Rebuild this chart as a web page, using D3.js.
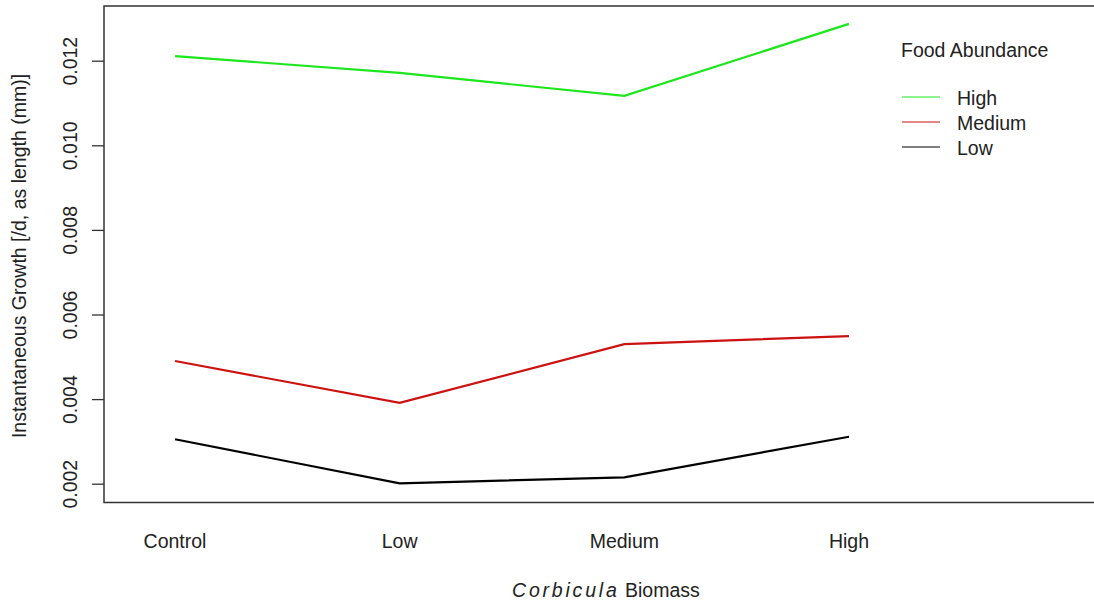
<!DOCTYPE html>
<html>
<head>
<meta charset="utf-8">
<script src="https://cdn.jsdelivr.net/npm/d3@7"></script>
<style>
  html, body { margin: 0; padding: 0; background: #fff; }
  svg { display: block; font-family: "Liberation Sans", Arial, sans-serif; }
</style>
</head>
<body>
<svg id="chart" width="1094" height="606"></svg>
<script>
// Biomass treatments along the x axis
const biomass = ["Control", "Low", "Medium", "High"];
// Growth rate per food-abundance level
const foodLevels = ["High", "Medium", "Low"];
const growthHigh   = [0.01211, 0.01171, 0.01117, 0.01287];
const growthMedium = [0.00490, 0.00391, 0.00530, 0.00549];
const growthLow    = [0.00305, 0.00201, 0.00215, 0.00311];
const yTicks = [0.002, 0.004, 0.006, 0.008, 0.010, 0.012];
const seriesColors = { High: "#1ee61e", Medium: "#cc1111", Low: "#000000" };

const series = [
  { name: "High", values: growthHigh },
  { name: "Medium", values: growthMedium },
  { name: "Low", values: growthLow }
];

const svg = d3.select("#chart");
const fs = 19.5;

// Plot frame (right edge runs past the page)
const frame = { left: 104, top: 6, right: 1106, bottom: 502.5 };

const x = d3.scalePoint().domain(biomass).range([175, 849]);
const y = d3.scaleLinear().domain([0.002, 0.012]).range([483.7, 60.7]);

// Box
svg.append("rect")
  .attr("x", frame.left).attr("y", frame.top)
  .attr("width", frame.right - frame.left)
  .attr("height", frame.bottom - frame.top)
  .attr("fill", "none").attr("stroke", "#333").attr("stroke-width", 1.5);

// Y axis with rotated labels
const yAxis = svg.append("g")
  .attr("transform", `translate(${frame.left},0)`)
  .call(d3.axisLeft(y).tickValues(yTicks).tickSize(12).tickFormat(d3.format(".3f")));
yAxis.select(".domain").remove();
yAxis.selectAll(".tick line").attr("stroke", "#333").attr("stroke-width", 1.3);
yAxis.selectAll(".tick text")
  .attr("x", 0).attr("dy", null)
  .attr("transform", "translate(-34,0) rotate(-90)")
  .attr("text-anchor", "middle")
  .attr("dominant-baseline", "central")
  .attr("font-size", fs)
  .attr("fill", "#222");

// X category labels (no tick marks)
svg.append("g").selectAll("text")
  .data(biomass).join("text")
  .attr("x", d => x(d)).attr("y", 548)
  .attr("text-anchor", "middle")
  .attr("font-size", fs).attr("fill", "#222")
  .text(d => d);

// Axis titles
const xt = svg.append("text")
  .attr("x", 512).attr("y", 597)
  .attr("font-size", fs).attr("fill", "#222");
xt.append("tspan").attr("font-style", "italic").attr("letter-spacing", "2.8px").text("Corbicula");
xt.append("tspan").text(" Biomass");

svg.append("text")
  .attr("transform", "translate(26,256) rotate(-90)")
  .attr("text-anchor", "middle")
  .attr("font-size", fs).attr("fill", "#222")
  .text("Instantaneous Growth [/d, as length (mm)]");

// Lines
const line = d3.line()
  .x((d, i) => x(biomass[i]))
  .y(d => y(d));

svg.append("g").selectAll("path")
  .data(series).join("path")
  .attr("d", d => line(d.values))
  .attr("fill", "none")
  .attr("stroke", d => seriesColors[d.name])
  .attr("stroke-width", 2.2)
  .attr("stroke-linejoin", "miter");

// Legend
const lg = svg.append("g");
lg.append("text")
  .attr("x", 901).attr("y", 57)
  .attr("font-size", fs).attr("fill", "#222")
  .text("Food Abundance");
const items = lg.selectAll("g.item")
  .data(foodLevels).join("g")
  .attr("class", "item")
  .attr("transform", (d, i) => `translate(0,${97 + i * 25})`);
items.append("line")
  .attr("x1", 902).attr("x2", 940)
  .attr("stroke", d => seriesColors[d]).attr("stroke-width", 1.2);
items.append("text")
  .attr("x", 957).attr("y", 7.5)
  .attr("font-size", fs).attr("fill", "#222")
  .text(d => d);
</script>
</body>
</html>
